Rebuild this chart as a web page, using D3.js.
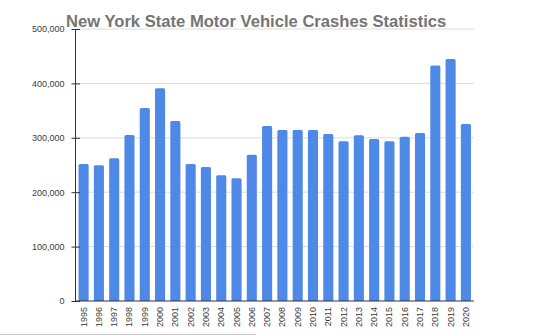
<!DOCTYPE html>
<html><head><meta charset="utf-8">
<script src="https://cdn.jsdelivr.net/npm/d3@7"></script>
<style>body{margin:0;background:#fff;}svg{display:block;font-family:Arial,"Liberation Sans",sans-serif;}</style>
</head><body><svg id="c" width="539" height="336"></svg>
<script>
const years = ["1995","1996","1997","1998","1999","2000","2001","2002","2003","2004","2005","2006","2007","2008","2009","2010","2011","2012","2013","2014","2015","2016","2017","2018","2019","2020"];
const crashes = [252000,249500,262500,305000,355000,391000,331000,252000,246500,231000,225500,269000,321500,314500,314500,314500,307000,293500,304500,298000,293500,302000,309000,433000,445000,325500];
const yTicks = [0,100000,200000,300000,400000,500000];
const title = "New York State Motor Vehicle Crashes Statistics";

const svg = d3.select("#c");
const pL = 75.5, pR = 474, pT = 29, pB = 301;
const x = d3.scaleBand().domain(years).range([pL, pR]).paddingInner(0.34).paddingOuter(0.2);
const y = d3.scaleLinear().domain([0, 500000]).range([pB, pT]);

// gridlines
svg.append("g").selectAll("line").data(yTicks.filter(d=>d>0)).join("line")
  .attr("x1", pL).attr("x2", pR).attr("y1", d=>y(d)).attr("y2", d=>y(d))
  .attr("stroke", "#dcdcdc").attr("stroke-width", 1);

// bars with rounded top
svg.append("g").selectAll("path").data(years).join("path")
  .attr("fill", "#4e89e8")
  .attr("d", (d,i) => {
    const x0 = x(d), w = x.bandwidth(), y0 = y(crashes[i]), r = 1.5;
    return `M${x0},${pB}V${y0+r}Q${x0},${y0} ${x0+r},${y0}H${x0+w-r}Q${x0+w},${y0} ${x0+w},${y0+r}V${pB}Z`;
  });

// y axis
const ya = d3.axisLeft(y).tickValues(yTicks).tickFormat(d3.format(",")).tickSize(0).tickPadding(11);
const yg = svg.append("g").attr("transform", `translate(${pL},0)`).call(ya);
yg.select(".domain").remove();
yg.selectAll("text").attr("font-size", 9).attr("fill", "#3c3c3c").style("font-family","Arial,'Liberation Sans',sans-serif");
yg.selectAll(".tick").append("line").attr("x1", -4).attr("x2", 4.5).attr("stroke", "#333");
svg.append("line").attr("x1", pL).attr("x2", pL).attr("y1", pT).attr("y2", pB).attr("stroke", "#333");

// x baseline
svg.append("line").attr("x1", pL).attr("x2", pR).attr("y1", pB).attr("y2", pB).attr("stroke", "#333");

// x labels
const xa = d3.axisBottom(x).tickSize(0).tickPadding(0);
const xg = svg.append("g").attr("transform", `translate(0,${pB})`).call(xa);
xg.select(".domain").remove();
xg.selectAll("text").attr("font-size", 9).attr("fill", "#3c3c3c")
  .style("font-family","Arial,'Liberation Sans',sans-serif")
  .attr("transform", "rotate(-90)").attr("text-anchor", "end")
  .attr("x", -6).attr("y", 0).attr("dy", "0.33em");

// title
svg.append("text").attr("x", 66).attr("y", 26.5).text(title)
  .attr("font-size", 16.6).attr("font-weight", "bold").attr("fill", "#757575");

// bottom frame line
svg.append("line").attr("x1", 0).attr("x2", 256).attr("y1", 334.5).attr("y2", 334.5).attr("stroke", "#c8c8c8");
</script></body></html>
